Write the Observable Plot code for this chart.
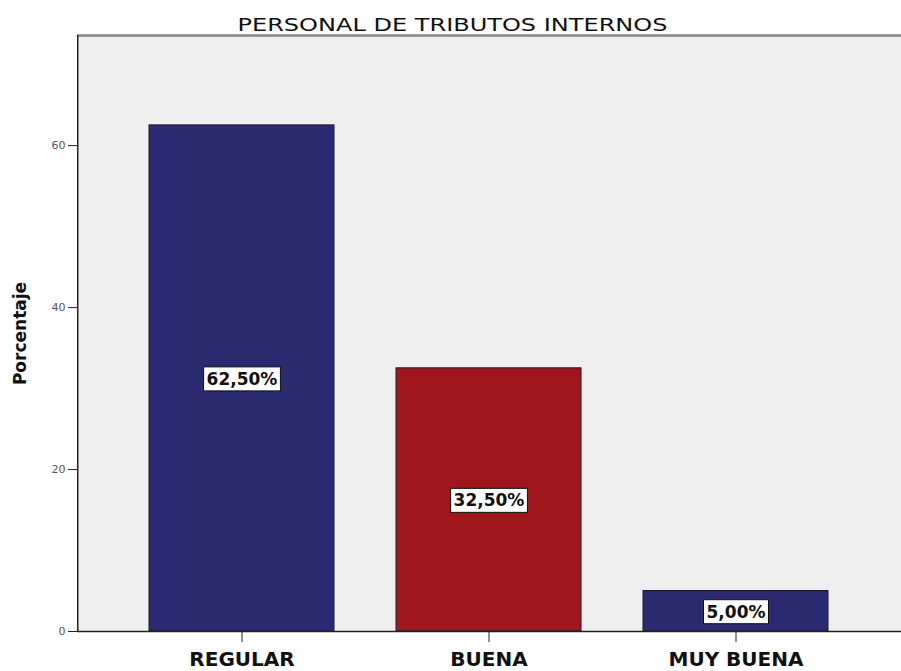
<!DOCTYPE html>
<html>
<head>
<meta charset="utf-8">
<script src="https://cdn.jsdelivr.net/npm/d3@7"></script>
<script src="https://cdn.jsdelivr.net/npm/@observablehq/plot@0.6"></script>
<style>
  html, body { margin: 0; padding: 0; background: #ffffff; }
  #chart svg { display: block; font-family: "DejaVu Sans", sans-serif; }
</style>
</head>
<body>
<div id="chart"></div>
<script>
// Percentage of internal-tax staff by rating
const categories = ["REGULAR", "BUENA", "MUY BUENA"];
const values = [62.5, 32.5, 5.0];
const barColors = ["#2a2a70", "#a1161d", "#2a2a70"];
const yTicks = [0, 20, 40, 60];
const yMax = 73.6;
const chartTitle = "PERSONAL DE TRIBUTOS INTERNOS";
const yLabel = "Porcentaje";

const rows = categories.map((c, i) => ({category: c, value: values[i]}));
const pct = v => v.toFixed(2).replace(".", ",") + "%";

const W = 901, H = 671, mL = 77, mR = 0, mT = 35, mB = 40;
const innerW = W - mL - mR;
const axisW = 1.5;

const chart = Plot.plot({
  width: W,
  height: H,
  marginLeft: mL,
  marginRight: mR,
  marginTop: mT,
  marginBottom: mB,
  style: {background: "#ffffff", fontFamily: "DejaVu Sans, sans-serif"},
  x: {domain: categories, paddingInner: 0.25, paddingOuter: 0.287},
  y: {domain: [0, yMax]},
  color: {domain: categories, range: barColors},
  marks: [
    // plot background
    Plot.frame({fill: "#efefef", stroke: null}),
    Plot.barY(rows, {x: "category", y: "value", fill: "category", stroke: "#1a1a2a", strokeWidth: 1}),
    // grey top border
    Plot.ruleY([yMax], {stroke: "#858585", strokeWidth: 2.5}),
    // left axis line: a thin strip along the left edge of the frame
    Plot.rect([0], {y1: 0, y2: yMax, fill: "#222222", insetRight: innerW - axisW}),
    // baseline
    Plot.ruleY([0], {stroke: "#222222", strokeWidth: 1.5}),
    Plot.axisY({ticks: yTicks, tickSize: 9, tickPadding: 3, fontSize: 11, stroke: "#222222", fill: "#555555", label: null, tickFormat: d => String(d)}),
    Plot.axisX({tickSize: 11, tickPadding: 9, fontSize: 20, fontWeight: "bold", stroke: "#222222", fill: "#111111", label: null}),
    Plot.text(rows, {x: "category", y: d => d.value / 2, dy: 1, text: d => pct(d.value), fontSize: 17, fontWeight: "bold", fill: "#111111"}),
    Plot.text([chartTitle], {frameAnchor: "top", dy: -17, dx: -37, fontSize: 18, fill: "#111111"}),
    Plot.text([yLabel], {frameAnchor: "left", textAnchor: "middle", rotate: -90, dx: -57, fontSize: 17, fontWeight: "bold", fill: "#111111"})
  ]
});

document.getElementById("chart").appendChild(chart);

// White boxes behind the percentage labels; stretch the title across its span
const svgNS = "http://www.w3.org/2000/svg";
chart.querySelectorAll("text").forEach(t => {
  const s = t.textContent;
  if (s === chartTitle) {
    t.setAttribute("textLength", 430);
    t.setAttribute("lengthAdjust", "spacingAndGlyphs");
  } else if (/%$/.test(s)) {
    const b = t.getBBox();
    const r = document.createElementNS(svgNS, "rect");
    r.setAttribute("x", b.x - 3);
    r.setAttribute("y", b.y - 2);
    r.setAttribute("width", b.width + 6);
    r.setAttribute("height", b.height + 4);
    r.setAttribute("fill", "#ffffff");
    r.setAttribute("stroke", "#111111");
    r.setAttribute("stroke-width", 1);
    const tr = t.getAttribute("transform");
    if (tr) r.setAttribute("transform", tr);
    t.parentNode.insertBefore(r, t);
  }
});
</script>
</body>
</html>
